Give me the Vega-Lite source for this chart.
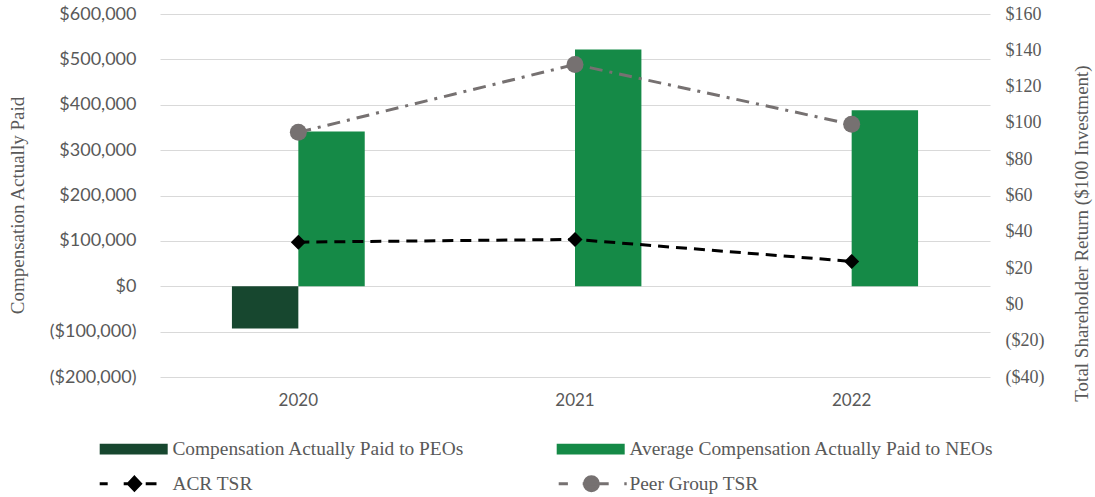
{
  "$schema": "https://vega.github.io/schema/vega-lite/v6.json",
  "width": 830,
  "height": 363,
  "autosize": {"type": "none"},
  "padding": {"left": 160, "top": 14, "right": 105, "bottom": 120},
  "background": "white",
  "config": {"view": {"stroke": null}},
  "datasets": {
    "bars": [
      {"year": "2020", "series": "Compensation Actually Paid to PEOs", "value": -93000},
      {"year": "2020", "series": "Average Compensation Actually Paid to NEOs", "value": 341000},
      {"year": "2021", "series": "Average Compensation Actually Paid to NEOs", "value": 522000},
      {"year": "2022", "series": "Average Compensation Actually Paid to NEOs", "value": 388000}
    ],
    "tsr": [
      {"year": "2020", "series": "ACR TSR", "value": 34.3},
      {"year": "2021", "series": "ACR TSR", "value": 35.8},
      {"year": "2022", "series": "ACR TSR", "value": 23.7},
      {"year": "2020", "series": "Peer Group TSR", "value": 94.8},
      {"year": "2021", "series": "Peer Group TSR", "value": 132.2},
      {"year": "2022", "series": "Peer Group TSR", "value": 99.2}
    ]
  },
  "resolve": {"scale": {"y": "independent"}},
  "layer": [
    {
      "data": {"name": "bars"},
      "mark": {"type": "bar"},
      "encoding": {
        "x": {
          "field": "year", "type": "nominal",
          "scale": {"paddingInner": 0.52, "paddingOuter": 0.26},
          "axis": {"title": null, "domain": false, "ticks": false, "labelAngle": 0, "labelFont": "Lato", "labelFontSize": 17, "labelColor": "#595959", "labelPadding": 15, "grid": false}
        },
        "xOffset": {
          "field": "series", "type": "nominal",
          "scale": {"domain": ["Compensation Actually Paid to PEOs", "Average Compensation Actually Paid to NEOs"], "paddingInner": 0, "paddingOuter": 0}
        },
        "y": {
          "field": "value", "type": "quantitative",
          "scale": {"domain": [-200000, 600000], "nice": false, "zero": false},
          "axis": {
            "orient": "left",
            "title": "Compensation Actually Paid",
            "titleFont": "Liberation Serif", "titleFontSize": 19, "titleFontWeight": "normal", "titleColor": "#595959", "titlePadding": 22, "titleY": 191,
            "labelFont": "Lato", "labelFontSize": 18, "labelColor": "#595959", "labelPadding": 24,
            "values": [-200000, -100000, 0, 100000, 200000, 300000, 400000, 500000, 600000],
            "labelExpr": "datum.value < 0 ? '($' + format(-datum.value, ',') + ')' : '$' + format(datum.value, ',') + '\u00a0\u00a0'",
            "domain": false, "ticks": false,
            "grid": true, "gridColor": "#d9d9d9", "gridWidth": 1
          }
        },
        "color": {
          "field": "series", "type": "nominal",
          "scale": {
            "domain": ["Compensation Actually Paid to PEOs", "Average Compensation Actually Paid to NEOs", "ACR TSR", "Peer Group TSR"],
            "range": ["#17472f", "#158a47", "#000000", "#767171"]
          },
          "legend": {
            "orient": "none", "legendX": -62, "legendY": 425,
            "direction": "horizontal",
            "columns": 2, "columnPadding": 87, "rowPadding": 11,
            "title": null, "padding": 0,
            "symbolSize": 256, "labelOffset": 55,
            "labelFont": "Liberation Serif", "labelFontSize": 19.4, "labelColor": "#595959", "labelLimit": 0,
            "encode": {
              "symbols": {
                "update": {
                  "shape": {"signal": "datum.value == 'ACR TSR' ? 'M-1,0H0M2,0H4.1M4.75,0H6.1M3.34,-0.8L4.1,0L3.34,0.8L2.58,0Z' : datum.value == 'Peer Group TSR' ? 'M-0.75,0H0.4M2.25,0H5.5M7.45,0H7.75M2.465,0A0.875,0.875 0 1,0 4.215,0A0.875,0.875 0 1,0 2.465,0Z' : 'M-1,-0.67H7.5V0.67H-1Z'"},
                  "size": {"value": 256},
                  "fill": {"signal": "scale('color', datum.value)"},
                  "stroke": {"signal": "scale('color', datum.value)"},
                  "strokeWidth": {"signal": "(datum.value == 'ACR TSR' || datum.value == 'Peer Group TSR') ? 3 : 0"},
                  "strokeDash": {"value": []},
                  "opacity": {"value": 1},
                  "fillOpacity": {"value": 1},
                  "strokeOpacity": {"value": 1}
                }
              }
            }
          }
        }
      }
    },
    {
      "data": {"name": "tsr"},
      "layer": [
        {
          "mark": {"type": "line", "strokeWidth": 3},
          "encoding": {
            "x": {"field": "year", "type": "nominal", "axis": {"title": null}},
            "y": {
              "field": "value", "type": "quantitative",
              "scale": {"domain": [-40, 160], "nice": false, "zero": false},
              "axis": {
                "orient": "right",
                "title": "Total Shareholder Return ($100 Investment)",
                "titleFont": "Liberation Serif", "titleFontSize": 19, "titleFontWeight": "normal", "titleColor": "#595959",
                "titleAngle": 270, "titleBaseline": "top", "titlePadding": 29, "titleY": 219,
                "labelFont": "Liberation Serif", "labelFontSize": 18, "labelColor": "#595959", "labelPadding": 15,
                "values": [-40, -20, 0, 20, 40, 60, 80, 100, 120, 140, 160],
                "labelExpr": "datum.value < 0 ? '($' + (-datum.value) + ')' : '$' + datum.value",
                "domain": false, "ticks": false, "grid": false
              }
            },
            "color": {"field": "series", "type": "nominal"},
            "strokeDash": {
              "field": "series", "type": "nominal",
              "scale": {"domain": ["ACR TSR", "Peer Group TSR"], "range": [[11, 7], [13, 7, 3, 7]]},
              "legend": null
            }
          }
        },
        {
          "mark": {"type": "point", "filled": true, "opacity": 1},
          "encoding": {
            "x": {"field": "year", "type": "nominal", "axis": {"title": null}},
            "y": {
              "field": "value", "type": "quantitative",
              "axis": {
                "orient": "right",
                "title": "Total Shareholder Return ($100 Investment)",
                "titleFont": "Liberation Serif", "titleFontSize": 19, "titleFontWeight": "normal", "titleColor": "#595959",
                "titleAngle": 270, "titleBaseline": "top", "titlePadding": 29, "titleY": 219,
                "labelFont": "Liberation Serif", "labelFontSize": 18, "labelColor": "#595959", "labelPadding": 15,
                "values": [-40, -20, 0, 20, 40, 60, 80, 100, 120, 140, 160],
                "labelExpr": "datum.value < 0 ? '($' + (-datum.value) + ')' : '$' + datum.value",
                "domain": false, "ticks": false, "grid": false
              }
            },
            "color": {"field": "series", "type": "nominal"},
            "shape": {
              "field": "series", "type": "nominal",
              "scale": {"domain": ["ACR TSR", "Peer Group TSR"], "range": ["diamond", "circle"]},
              "legend": null
            },
            "size": {
              "field": "series", "type": "nominal",
              "scale": {"domain": ["ACR TSR", "Peer Group TSR"], "range": [225, 289]},
              "legend": null
            }
          }
        }
      ]
    }
  ]
}
